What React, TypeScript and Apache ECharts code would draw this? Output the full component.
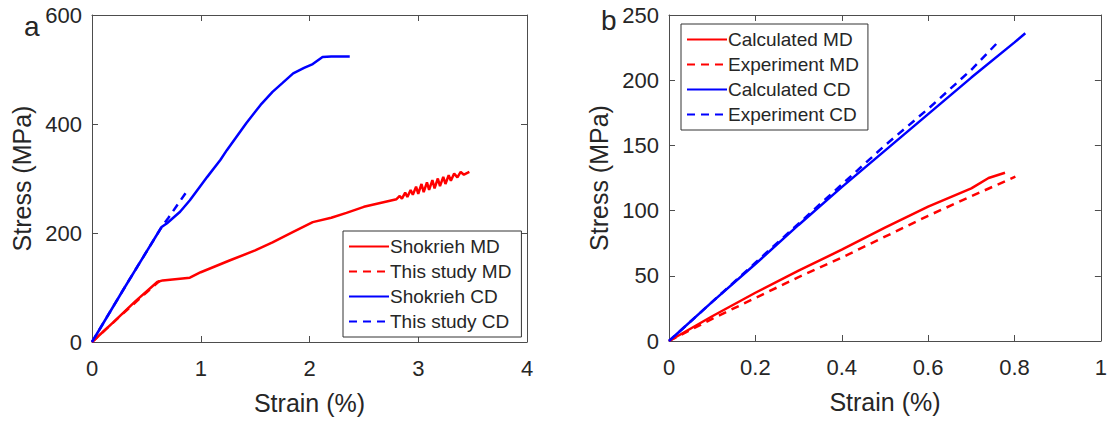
import React, { useEffect, useRef } from "react";
import * as echarts from "echarts";

// ---- Panel a ----
const shokriehMDStrain = [0, 0.2, 0.4, 0.6, 0.65, 0.9, 1.0, 1.27, 1.5, 1.66, 1.85, 2.03, 2.2, 2.34, 2.5, 2.65, 2.8, 2.83, 2.85, 2.88, 2.9, 2.93, 2.95, 2.98, 3.0, 3.03, 3.05, 3.08, 3.1, 3.13, 3.15, 3.18, 3.2, 3.23, 3.25, 3.28, 3.3, 3.33, 3.36, 3.39, 3.42, 3.47];
const shokriehMDStress = [0, 37, 75, 110, 113, 118, 128, 150, 168, 183, 202, 220, 228, 237, 248, 255, 262, 268, 263, 274, 266, 279, 270, 285, 272, 290, 275, 293, 279, 297, 282, 300, 286, 303, 290, 306, 296, 309, 302, 312, 307, 312];
const thisStudyMDStrain = [0, 0.3, 0.62];
const thisStudyMDStress = [0, 55, 112];
const shokriehCDStrain = [0, 0.3, 0.64, 0.69, 0.81, 0.9, 1.06, 1.18, 1.24, 1.42, 1.55, 1.66, 1.75, 1.85, 1.95, 2.03, 2.12, 2.2, 2.37];
const shokriehCDStress = [0, 100, 211, 218, 239, 260, 303, 334, 352, 402, 435, 459, 475, 493, 503, 510, 523, 524, 524];
const thisStudyCDStrain = [0, 0.3, 0.64, 0.7, 0.86];
const thisStudyCDStress = [0, 100, 211, 227, 273];

// ---- Panel b ----
const calcMDStrain = [0, 0.1, 0.2, 0.3, 0.4, 0.5, 0.6, 0.7, 0.74, 0.778];
const calcMDStress = [0, 19, 37, 54, 70, 87, 103, 117, 125, 129];
const expMDStrain = [0, 0.1, 0.2, 0.3, 0.4, 0.5, 0.6, 0.7, 0.802];
const expMDStress = [0, 17, 33, 49, 64, 80, 96, 111, 126];
const calcCDStrain = [0, 0.1, 0.2, 0.3, 0.4, 0.5, 0.6, 0.7, 0.8, 0.825];
const calcCDStress = [0, 30, 59, 89, 118, 146, 174, 202, 229, 236];
const expCDStrain = [0, 0.1, 0.2, 0.3, 0.4, 0.5, 0.6, 0.7, 0.767];
const expCDStress = [0, 30, 60, 90, 120, 150, 178, 208, 231];

const aXTicks = { min: 0, max: 4, interval: 1 };
const aYTicks = { min: 0, max: 600, interval: 200 };
const bXTicks = { min: 0, max: 1, interval: 0.2 };
const bYTicks = { min: 0, max: 250, interval: 50 };

const legendA = ["Shokrieh MD", "This study MD", "Shokrieh CD", "This study CD"];
const legendB = ["Calculated MD", "Experiment MD", "Calculated CD", "Experiment CD"];

const pairs = (xs: number[], ys: number[]) => xs.map((x, i) => [x, ys[i]]);

const TXT = "#262626";
const AX = "#4d4d4d";
const FONT = "'Liberation Sans', Arial, sans-serif";

function mkAxis(grid: number, pos: string, ticks: any, main: boolean, name: string, isY: boolean) {
  return {
    type: "value",
    gridIndex: grid,
    position: pos,
    min: ticks.min,
    max: ticks.max,
    interval: ticks.interval,
    name: main ? name : "",
    nameLocation: "middle",
    nameGap: isY ? 58 : 48,
    nameTextStyle: { color: TXT, fontSize: 25, fontFamily: FONT },
    axisLine: { show: true, onZero: false, lineStyle: { color: AX, width: 1 } },
    axisTick: { show: true, inside: true, length: 6, lineStyle: { color: AX } },
    axisLabel: {
      show: main,
      color: TXT,
      fontSize: 22,
      fontFamily: FONT,
      margin: isY ? 10 : 15,
    },
    splitLine: { show: false },
  };
}

function line(name: string, data: number[][], color: string, dashed: boolean, axisIdx: number) {
  return {
    name,
    type: "line",
    xAxisIndex: axisIdx,
    yAxisIndex: axisIdx,
    data,
    symbol: "none",
    showSymbol: false,
    smooth: false,
    lineStyle: { color, width: 2.5, type: dashed ? [8, 6] : "solid" },
    itemStyle: { color },
    z: dashed ? 3 : 2,
  };
}

export default function App() {
  const ref = useRef<HTMLDivElement>(null);
  useEffect(() => {
    if (!ref.current) return;
    const chart = echarts.init(ref.current, null, { renderer: "svg" });
    const legendCommon = {
      orient: "vertical",
      backgroundColor: "#fff",
      borderColor: "#333",
      borderWidth: 1,
      borderRadius: 0,
      itemWidth: 40,
      itemHeight: 14,
      itemGap: 6,
      itemStyle: { opacity: 0 },
      textStyle: { color: TXT, fontSize: 19, fontFamily: FONT, padding: [0, 0, 0, -4] },
    };
    chart.setOption({
      animation: false,
      grid: [
        { left: 92, top: 15, width: 435, height: 327 },
        { left: 669, top: 15, width: 434, height: 326 },
      ],
      xAxis: [
        mkAxis(0, "bottom", aXTicks, true, "Strain (%)", false),
        mkAxis(0, "top", aXTicks, false, "", false),
        mkAxis(1, "bottom", bXTicks, true, "Strain (%)", false),
        mkAxis(1, "top", bXTicks, false, "", false),
      ],
      yAxis: [
        mkAxis(0, "left", aYTicks, true, "Stress (MPa)", true),
        mkAxis(0, "right", aYTicks, false, "", true),
        mkAxis(1, "left", bYTicks, true, "Stress (MPa)", true),
        mkAxis(1, "right", bYTicks, false, "", true),
      ],
      legend: [
        { ...legendCommon, data: legendA, left: 343, top: 231, padding: [6, 10, 6, 5] },
        { ...legendCommon, data: legendB, left: 681, top: 24, padding: [6, 9, 6, 5] },
      ],
      graphic: [
        { type: "text", left: 24, top: 12, style: { text: "a", fontSize: 28, fill: TXT, fontFamily: FONT } },
        { type: "text", left: 601, top: 6, style: { text: "b", fontSize: 28, fill: TXT, fontFamily: FONT } },
      ],
      series: [
        line(legendA[0], pairs(shokriehMDStrain, shokriehMDStress), "#ff0000", false, 0),
        line(legendA[1], pairs(thisStudyMDStrain, thisStudyMDStress), "#ff0000", true, 0),
        line(legendA[2], pairs(shokriehCDStrain, shokriehCDStress), "#0000ff", false, 0),
        line(legendA[3], pairs(thisStudyCDStrain, thisStudyCDStress), "#0000ff", true, 0),
        line(legendB[0], pairs(calcMDStrain, calcMDStress), "#ff0000", false, 2),
        line(legendB[1], pairs(expMDStrain, expMDStress), "#ff0000", true, 2),
        line(legendB[2], pairs(calcCDStrain, calcCDStress), "#0000ff", false, 2),
        line(legendB[3], pairs(expCDStrain, expCDStress), "#0000ff", true, 2),
      ],
    });
    return () => chart.dispose();
  }, []);
  return (
    <div
      ref={ref}
      style={{ position: "fixed", left: 0, top: 0, width: 1110, height: 421, background: "#fff" }}
    />
  );
}
